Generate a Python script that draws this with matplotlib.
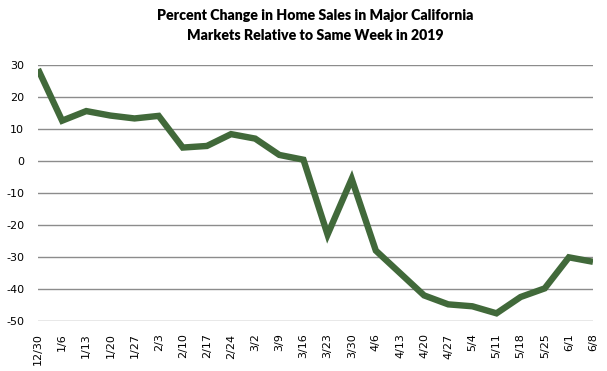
import matplotlib
matplotlib.use("Agg")
import matplotlib.pyplot as plt

weeks = ["12/30", "1/6", "1/13", "1/20", "1/27", "2/3", "2/10", "2/17", "2/24",
         "3/2", "3/9", "3/16", "3/23", "3/30", "4/6", "4/13", "4/20", "4/27",
         "5/4", "5/11", "5/18", "5/25", "6/1", "6/8"]
pct_change = [28.7, 12.6, 15.6, 14.2, 13.3, 14.1, 4.2, 4.7, 8.4,
              7.0, 1.9, 0.4, -23.0, -5.6, -28.0, -35.0, -42.0, -44.8,
              -45.4, -47.6, -42.5, -39.8, -30.1, -31.5]
y_ticks = [30, 20, 10, 0, -10, -20, -30, -40, -50]
title = "Percent Change in Home Sales in Major California\nMarkets Relative to Same Week in 2019"

W, H = 607, 371
fig = plt.figure(figsize=(W / 100, H / 100), dpi=100)
ax = fig.add_axes([38 / W, 1 - 321 / H, (593 - 38) / W, (321 - 65) / H])

x = list(range(len(weeks)))
ax.plot(x, pct_change, color="#41693a", linewidth=4.6, solid_joinstyle="miter",
        solid_capstyle="butt", zorder=3)

ax.set_xlim(0, len(weeks) - 1)
ax.set_ylim(-50, 30)
ax.set_yticks(y_ticks)
ax.set_yticklabels([str(v) for v in y_ticks])
ax.set_xticks(x)
ax.set_xticklabels(weeks, rotation=90)
ax.grid(axis="y", color="#8c8c8c", linewidth=1.0, zorder=1)
for s in ax.spines.values():
    s.set_visible(False)
ax.tick_params(axis="both", length=0, labelsize=8, colors="#000000")
ax.tick_params(axis="y", pad=10)
ax.tick_params(axis="x", pad=9)

fig.suptitle(title, x=(38 + 593) / 2 / W, y=1 - 9 / H, fontsize=10.2,
             fontweight="heavy", family="Lato", va="top", linespacing=1.6)

fig.savefig("out.png", dpi=100)
